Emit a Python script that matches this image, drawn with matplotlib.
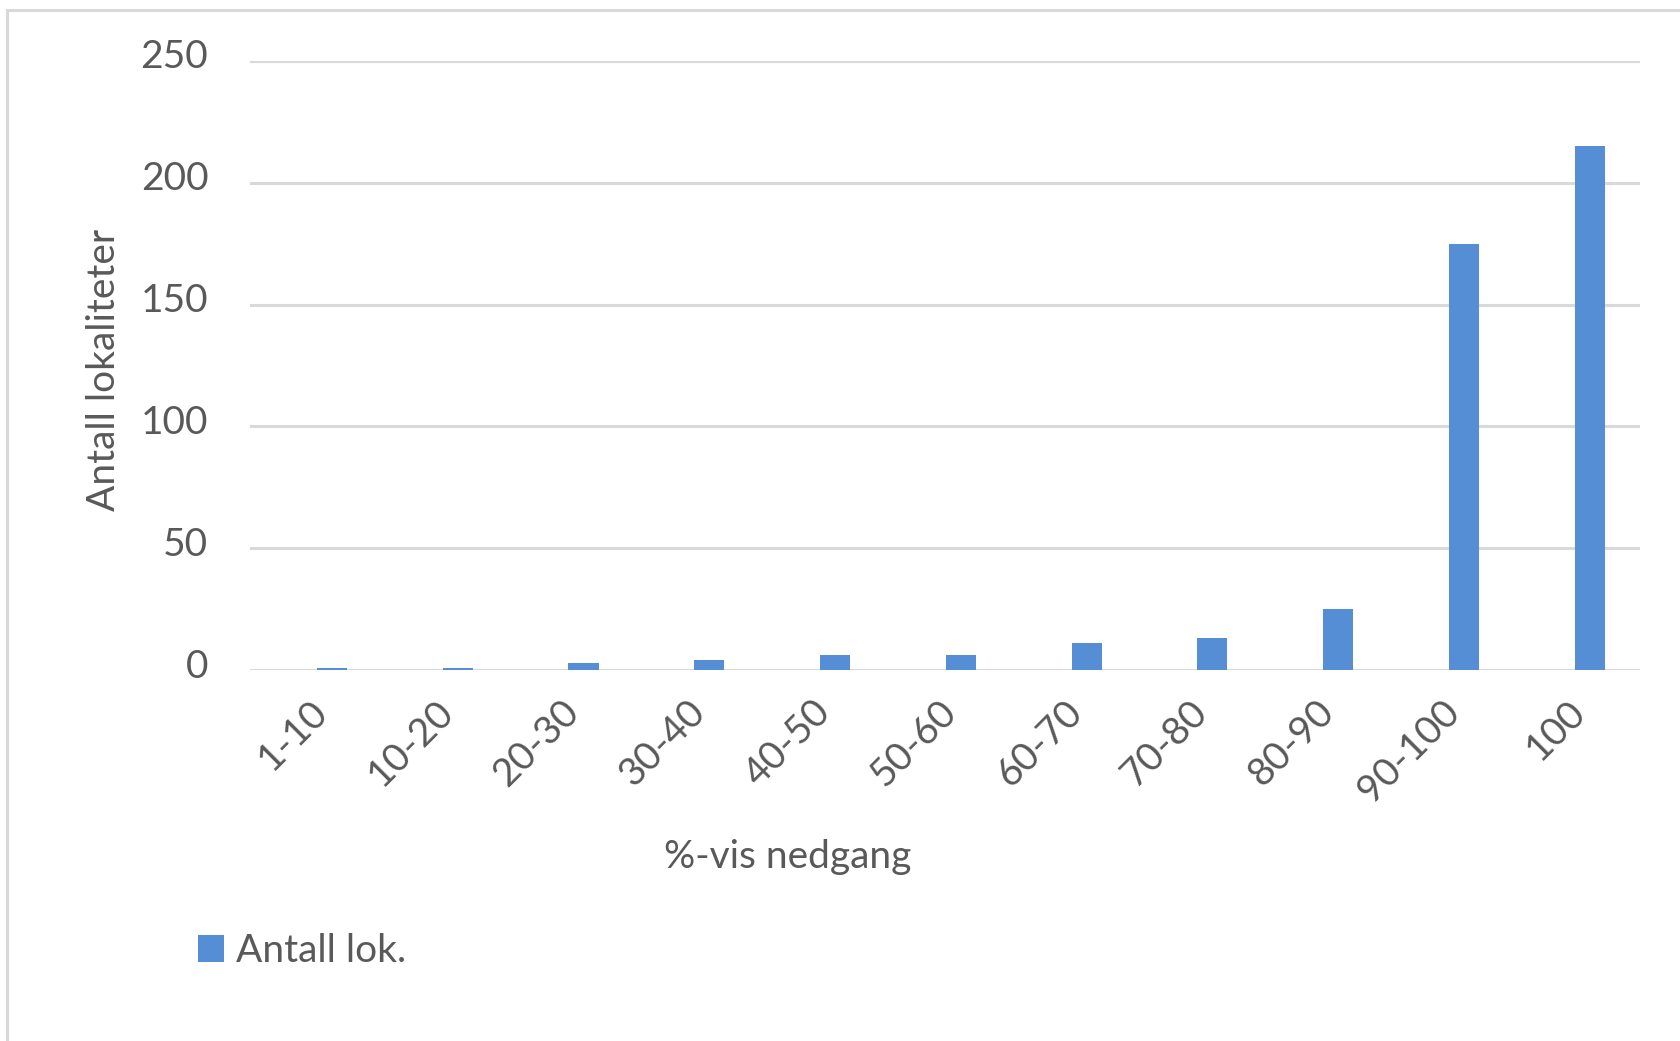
"""
Antall lokaliteter per %-vis nedgang
"""

import numpy as np
import matplotlib
matplotlib.use('Agg')
import matplotlib.pyplot as plt
import matplotlib.lines as mlines
import matplotlib.transforms as mtrans

# Data
categories = ['1-10', '10-20', '20-30', '30-40', '40-50', '50-60',
              '60-70', '70-80', '80-90', '90-100', '100']
antall_lok = [1, 1, 3, 4, 6, 6, 11, 13, 25, 175, 215]
y_ticks = [0, 50, 100, 150, 200, 250]

W, H = 1680, 1041
BAR = '#558ED5'
GRID = '#D9D9D9'
TXT = '#595959'

plt.rcParams['font.family'] = ['Lato', 'DejaVu Sans']
plt.rcParams['font.size'] = 28

fig = plt.figure(figsize=(W / 100, H / 100), dpi=100)

# Outer chart border (left and top edges visible)
fig.add_artist(mlines.Line2D([7 / W, 7 / W], [0, 1 - 10 / H], color=GRID, lw=2.2))
fig.add_artist(mlines.Line2D([7 / W, 1], [1 - 10 / H, 1 - 10 / H], color=GRID, lw=2.2))

# Plot area in pixels
left, right, top, bottom = 250, 1640, 61, 670
ax = fig.add_axes([left / W, 1 - bottom / H, (right - left) / W, (bottom - top) / H])

x = np.arange(len(categories))
ax.bar(x, antall_lok, width=0.24, color=BAR, zorder=3, label='Antall lok.')

ax.set_xlim(-0.652, len(categories) - 1 + 0.40)
ax.set_ylim(0, 250)
ax.set_yticks(y_ticks)
ax.yaxis.grid(True, color=GRID, lw=2.2, zorder=0)
ax.set_axisbelow(True)

for s in ax.spines.values():
    s.set_visible(False)

ax.tick_params(axis='both', length=0, colors=TXT, labelsize=28)
ax.tick_params(axis='y', pad=30)
ax.tick_params(axis='x', pad=26)
ax.set_xticks(x)
ax.set_xticklabels(categories, rotation=45, ha='right', va='center',
                   rotation_mode='anchor')

# Small nudges so the labels sit where Excel put them
x_off = mtrans.ScaledTranslation(-10 / 100, 0, fig.dpi_scale_trans)
for lab in ax.get_xticklabels():
    lab.set_transform(lab.get_transform() + x_off)
y_off = mtrans.ScaledTranslation(0, 7 / 100, fig.dpi_scale_trans)
for lab in ax.get_yticklabels():
    lab.set_transform(lab.get_transform() + y_off)

# Axis titles
fig.text(104 / W, 1 - 370 / H, 'Antall lokaliteter', rotation=90, ha='center',
         va='center', color=TXT, fontsize=28)
fig.text(788 / W, 1 - 857 / H, '%-vis nedgang', ha='center', va='center',
         color=TXT, fontsize=28)

# Legend
fig.legend(loc='center left', bbox_to_anchor=(198 / W, 1 - 951 / H),
           frameon=False, handlelength=0.67, handleheight=0.67,
           handletextpad=0.3, borderpad=0, borderaxespad=0,
           labelcolor=TXT, fontsize=28)

fig.savefig('out.png', dpi=100)
